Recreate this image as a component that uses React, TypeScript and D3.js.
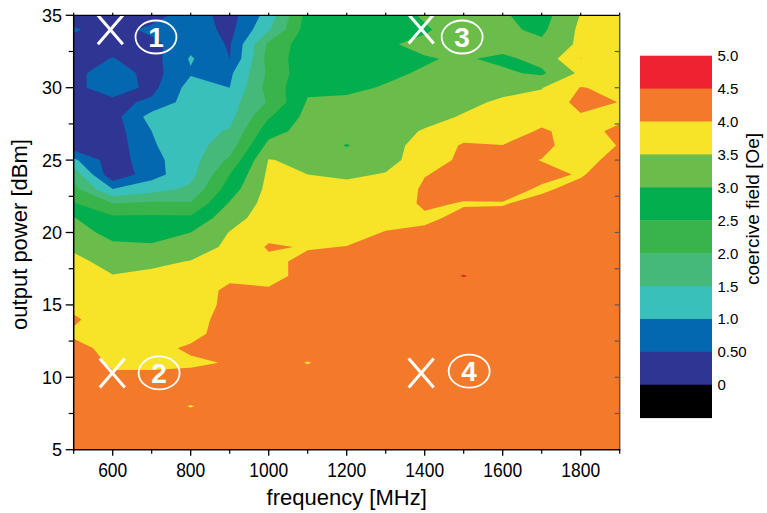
import React, { useMemo } from 'react';
import * as d3 from 'd3';

// ---------- data ----------
const frequencies = [500, 600, 700, 800, 900, 1000, 1100, 1200, 1300, 1400, 1500, 1600, 1700, 1800, 1900];
// rows from top (35 dBm) to bottom (5 dBm)
const powers = [35, 34, 33, 32, 31, 30, 29, 28, 27, 26, 25, 24, 23, 22, 21, 20, 19, 18, 17, 16, 15, 14, 13, 12, 11, 10, 9, 8, 7, 6, 5];

// coercive field [Oe] per frequency column, p = 35 ... 5 dBm
const f500 = [0.3, 0.55, 0.3, 0.3, 0.35, 0.35, 0.25, 0.25, 0.25, 0.2, 1.1, 1.85, 2.15, 2.54, 3.02, 3.2, 3.4, 3.65, 3.75, 3.8, 3.9, 4.05, 3.95, 4.1, 4.2, 4.2, 4.2, 4.2, 4.2, 4.2, 4.2];
const f600 = [0.3, 0.3, 0.3, 0.52, 0.8, 0.8, 0.35, 0.3, 0.25, 0.2, 0.2, 0.1, 1.0, 2.0, 2.6, 2.85, 3.1, 3.3, 3.52, 3.65, 3.75, 3.8, 3.85, 3.9, 3.95, 4.05, 4.2, 4.2, 4.2, 4.2, 4.2];
const f700 = [0.3, 0.62, 0.35, 0.3, 0.3, 0.35, 0.6, 1.2, 1.0, 0.95, 0.85, 0.8, 1.3, 2.1, 2.6, 2.85, 3.05, 3.4, 3.6, 3.7, 3.8, 3.85, 3.88, 3.9, 3.95, 4.05, 4.2, 4.2, 4.2, 4.2, 4.2];
const f800 = [0.75, 0.8, 0.85, 1.05, 0.95, 1.2, 1.25, 1.3, 1.3, 1.3, 1.3, 1.35, 1.6, 2.05, 2.6, 3.0, 3.25, 3.52, 3.65, 3.75, 3.8, 3.85, 3.9, 4.05, 3.95, 4.1, 4.2, 3.98, 4.2, 4.2, 4.2];
const f900 = [0.3, 0.35, 0.45, 0.5, 0.9, 1.0, 1.3, 1.35, 1.55, 1.75, 2.1, 2.5, 2.75, 3.05, 3.3, 3.52, 3.6, 3.7, 3.9, 4.1, 4.1, 4.15, 4.15, 4.15, 4.02, 4.15, 4.2, 4.2, 4.2, 4.2, 4.2];
const f1000 = [1.2, 1.45, 2.1, 2.2, 2.1, 2.2, 2.05, 2.45, 2.8, 3.15, 3.52, 3.6, 3.65, 3.7, 3.75, 3.85, 4.05, 3.9, 3.85, 4.05, 4.1, 4.2, 4.2, 4.2, 4.2, 4.2, 4.2, 4.2, 4.2, 4.2, 4.2];
const f1100 = [2.7, 2.75, 2.8, 2.8, 2.85, 2.9, 3.05, 3.15, 3.2, 3.3, 3.4, 3.5, 3.6, 3.7, 3.75, 3.85, 3.97, 4.1, 4.15, 4.15, 4.2, 4.2, 4.2, 4.2, 3.98, 4.2, 4.2, 4.2, 4.2, 4.2, 4.2];
const f1200 = [2.75, 2.8, 2.8, 2.85, 2.9, 2.95, 3.05, 3.15, 3.2, 2.97, 3.3, 3.45, 3.6, 3.7, 3.8, 3.85, 4.01, 4.05, 4.15, 4.2, 4.2, 4.2, 4.2, 4.2, 4.2, 4.2, 4.2, 4.2, 4.2, 4.2, 4.2];
const f1300 = [2.8, 2.85, 2.95, 2.9, 2.95, 3.02, 3.15, 3.2, 3.25, 3.3, 3.4, 3.52, 3.6, 3.7, 3.85, 4.02, 4.1, 4.15, 4.2, 4.2, 4.2, 4.2, 4.2, 4.2, 4.2, 4.2, 4.2, 4.2, 4.2, 4.2, 4.2];
const f1400 = [3.05, 2.95, 3.1, 2.97, 3.03, 3.2, 3.25, 3.3, 3.55, 3.7, 3.65, 3.98, 4.08, 4.08, 3.92, 4.08, 4.15, 4.2, 4.2, 4.2, 4.2, 4.2, 4.2, 4.2, 4.2, 4.2, 4.2, 4.2, 4.2, 4.2, 4.2];
const f1500 = [3.2, 3.2, 3.15, 3.05, 3.15, 3.2, 3.35, 3.55, 3.8, 4.05, 4.15, 4.15, 4.15, 3.97, 4.1, 4.15, 4.2, 4.2, 4.53, 4.2, 4.2, 4.2, 4.2, 4.2, 4.2, 4.2, 4.2, 4.2, 4.2, 4.2, 4.2];
const f1600 = [3.05, 3.1, 3.2, 2.9, 3.08, 3.3, 3.6, 3.7, 3.8, 4.01, 4.1, 4.15, 4.15, 3.98, 4.1, 4.15, 4.2, 4.2, 4.2, 4.2, 4.2, 4.2, 4.2, 4.2, 4.2, 4.2, 4.2, 4.2, 4.2, 4.2, 4.2];
const f1700 = [2.8, 2.9, 3.1, 3.15, 2.92, 3.48, 3.65, 3.85, 4.05, 4.1, 3.99, 4.1, 3.95, 4.1, 4.15, 4.2, 4.2, 4.2, 4.2, 4.2, 4.2, 4.2, 4.2, 4.2, 4.2, 4.2, 4.2, 4.2, 4.2, 4.2, 4.2];
const f1800 = [3.52, 3.6, 3.6, 4.01, 3.6, 4.02, 4.15, 3.95, 3.85, 3.8, 3.85, 3.97, 4.1, 4.15, 4.2, 4.2, 4.2, 4.2, 4.2, 4.2, 4.2, 4.2, 4.2, 4.2, 4.2, 4.2, 4.2, 4.2, 4.2, 4.2, 4.2];
const f1900 = [3.7, 3.75, 3.8, 3.8, 3.85, 3.9, 3.99, 3.9, 4.1, 4.02, 4.15, 4.2, 4.2, 4.2, 4.2, 4.2, 4.2, 4.2, 4.2, 4.2, 4.2, 4.2, 4.2, 4.2, 4.2, 4.2, 4.2, 4.2, 4.2, 4.2, 4.2];

const columns = [f500, f600, f700, f800, f900, f1000, f1100, f1200, f1300, f1400, f1500, f1600, f1700, f1800, f1900];

const thresholds = [0, 0.5, 1, 1.5, 2, 2.5, 3, 3.5, 4, 4.5];
const bandColors = ['#2F3592', '#0468B1', '#3AC0BB', '#45B97A', '#39B44A', '#02AE4E', '#6BBD4B', '#F7E327', '#F37A2B', '#EE2231'];
const belowColor = '#000000';
const legendLabels = ['5.0', '4.5', '4.0', '3.5', '3.0', '2.5', '2.0', '1.5', '1.0', '0.50', '0'];

const xMajorTicks = [600, 800, 1000, 1200, 1400, 1600, 1800];
const xMinorTicks = [500, 700, 900, 1100, 1300, 1500, 1700, 1900];
const yMajorTicks = [5, 10, 15, 20, 25, 30, 35];
const yMinorTicks = [7.5, 12.5, 17.5, 22.5, 27.5, 32.5];

const markerFreq = [594, 599, 1391, 1391];
const markerPower = [34.0, 10.3, 34.05, 10.3];
const markerLabels = ['1', '2', '3', '4'];
const labelFreq = [711, 719, 1496, 1514];
const labelPower = [33.5, 10.3, 33.5, 10.42];

const FONT = '"Liberation Sans", Arial, Helvetica, sans-serif';

export default function App() {
  const W = 767, H = 513;
  const x = d3.scaleLinear().domain([500, 1900]).range([73.7, 619.7]);
  const y = d3.scaleLinear().domain([5, 35]).range([449.7, 15.3]);

  const paths = useMemo(() => {
    const nc = columns.length, nr = powers.length;
    const nx = nc + 2, ny = nr + 2;
    const vals: number[] = new Array(nx * ny);
    for (let j = 0; j < ny; j++) {
      for (let i = 0; i < nx; i++) {
        const ci = Math.min(nc - 1, Math.max(0, i - 1));
        const rj = Math.min(nr - 1, Math.max(0, j - 1));
        vals[j * nx + i] = columns[ci][rj];
      }
    }
    const fStep = frequencies[1] - frequencies[0];
    const pStep = powers[0] - powers[1];
    const proj = d3.geoTransform({
      point(px: number, py: number) {
        const f = frequencies[0] + (px - 1.5) * fStep;
        const p = powers[0] - (py - 1.5) * pStep;
        (this as any).stream.point(x(f), y(p));
      },
    });
    const gp = d3.geoPath(proj);
    const cs = d3.contours().size([nx, ny]).thresholds(thresholds)(vals);
    return cs.map((c, k) => ({ d: gp(c as any) || '', color: bandColors[k] }));
  }, []);

  const x0 = x(500), x1 = x(1900), y0 = y(35), y1 = y(5);

  // colorbar
  const cbX = 640, cbW = 72, cbTop = 55.7, cbBand = 32.9;
  const cbColors = [...bandColors].reverse().concat([belowColor]);

  return (
    <svg width={W} height={H} style={{ position: 'absolute', left: 0, top: 0, background: '#fff' }} fontFamily={FONT}>
      <defs>
        <clipPath id="plotClip">
          <rect x={x0} y={y0} width={x1 - x0} height={y1 - y0} />
        </clipPath>
      </defs>
      <g clipPath="url(#plotClip)">
        {paths.map((p, i) => (
          <path key={i} d={p.d} fill={p.color} stroke="none" />
        ))}
      </g>

      {/* markers */}
      {markerFreq.map((f, i) => {
        const cx = x(f), cy = y(markerPower[i]);
        return (
          <g key={'m' + i} stroke="#fff" strokeWidth={3} strokeLinecap="butt">
            <line x1={cx - 12.5} y1={cy - 14.5} x2={cx + 12.5} y2={cy + 14.5} />
            <line x1={cx + 12.5} y1={cy - 14.5} x2={cx - 12.5} y2={cy + 14.5} />
          </g>
        );
      })}
      {labelFreq.map((f, i) => {
        const cx = x(f), cy = y(labelPower[i]);
        return (
          <g key={'l' + i}>
            <ellipse cx={cx} cy={cy} rx={20.5} ry={16.5} fill="none" stroke="#fff" strokeWidth={1.8} />
            <text x={cx} y={cy + 10} textAnchor="middle" fontSize={28} fontWeight="bold" fill="#fff">
              {markerLabels[i]}
            </text>
          </g>
        );
      })}

      {/* frame */}
      <line x1={x0} y1={y0} x2={x1} y2={y0} stroke="#000" strokeWidth={1.3} />
      <line x1={x1} y1={y0} x2={x1} y2={y1} stroke="#5a5a5a" strokeWidth={1.5} />
      <line x1={x0} y1={y0} x2={x0} y2={y1 + 0.7} stroke="#000" strokeWidth={1.5} />
      <line x1={x0 - 0.7} y1={y1} x2={x1 + 0.7} y2={y1} stroke="#000" strokeWidth={1.5} />

      {/* left ticks */}
      {yMajorTicks.map((t) => (
        <g key={'ym' + t}>
          <line x1={x0 - 8} x2={x0} y1={y(t)} y2={y(t)} stroke="#000" strokeWidth={1.3} />
          <text x={62} y={y(t) + 6.4} textAnchor="end" fontSize={18} fill="#000">{t}</text>
        </g>
      ))}
      {yMinorTicks.map((t) => (
        <line key={'yn' + t} x1={x0 - 5} x2={x0} y1={y(t)} y2={y(t)} stroke="#000" strokeWidth={1.2} />
      ))}
      {/* right ticks */}
      {[...yMinorTicks, 10, 15, 20, 25, 30].map((t) => (
        <line key={'yr' + t} x1={x1 - 5} x2={x1} y1={y(t)} y2={y(t)} stroke="#5a5a5a" strokeWidth={1.2} />
      ))}
      {/* bottom ticks */}
      {xMajorTicks.map((t) => (
        <g key={'xm' + t}>
          <line x1={x(t)} x2={x(t)} y1={y1} y2={y1 + 6} stroke="#000" strokeWidth={1.3} />
          <text x={x(t)} y={477} textAnchor="middle" fontSize={20} fill="#000"
            textLength={String(t).length * 9.7} lengthAdjust="spacingAndGlyphs">{t}</text>
        </g>
      ))}
      {xMinorTicks.map((t) => (
        <line key={'xn' + t} x1={x(t)} x2={x(t)} y1={y1} y2={y1 + 4} stroke="#000" strokeWidth={1.2} />
      ))}
      {/* top ticks */}
      {[...xMajorTicks, ...xMinorTicks].map((t) => (
        <line key={'xt' + t} x1={x(t)} x2={x(t)} y1={y0 - 2.5} y2={y0} stroke="#000" strokeWidth={1.2} />
      ))}

      {/* axis titles */}
      <text x={(x0 + x1) / 2} y={505} textAnchor="middle" fontSize={22} fill="#000">frequency [MHz]</text>
      <text transform={`translate(27,${(y0 + y1) / 2 + 2}) rotate(-90)`} textAnchor="middle" fontSize={22} fill="#000">
        output power [dBm]
      </text>

      {/* colorbar */}
      {cbColors.map((c, i) => (
        <rect key={'cb' + i} x={cbX} y={cbTop + i * cbBand} width={cbW} height={cbBand + 0.5} fill={c} />
      ))}
      {legendLabels.map((l, i) => (
        <text key={'cl' + i} x={717.5} y={cbTop + i * cbBand + 5.5} fontSize={15} fill="#000">{l}</text>
      ))}
      <text transform="translate(759,209) rotate(-90)" textAnchor="middle" fontSize={19} fill="#000">
        coercive field [Oe]
      </text>
    </svg>
  );
}
